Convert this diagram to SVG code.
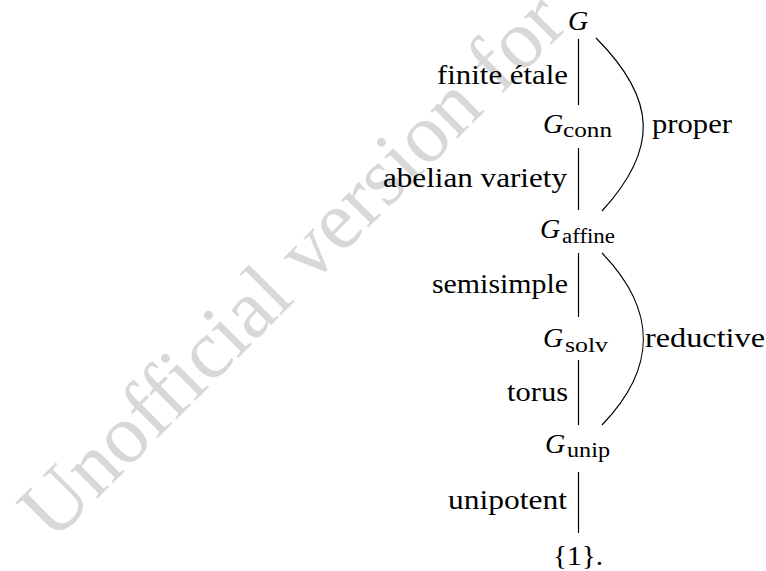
<svg xmlns="http://www.w3.org/2000/svg" width="766" height="571" viewBox="0 0 766 571">
<style>
.wm{font-family:'Liberation Serif','Times New Roman','DejaVu Serif',serif;font-size:84px;fill:#d8d8d8}
.t{font-family:'Liberation Serif','Times New Roman','DejaVu Serif',serif;font-size:28px;fill:#000}
.m{font-family:'Liberation Serif','Times New Roman','DejaVu Serif',serif;font-size:28px;font-style:italic;fill:#000}
.s{font-family:'Liberation Serif','Times New Roman','DejaVu Serif',serif;font-size:20px;fill:#000}
.e{stroke:#000;stroke-width:1.2;fill:none}
</style>
<rect width="766" height="571" fill="#fff"/>
<text class="wm" x="53" y="543" transform="rotate(-45 53 543)">Unofficial version for</text>
<g id="connectors">
<line class="e" x1="578.5" y1="39" x2="578.5" y2="105"/>
<line class="e" x1="578.5" y1="148" x2="578.5" y2="210"/>
<line class="e" x1="578.5" y1="253" x2="578.5" y2="317"/>
<line class="e" x1="578.5" y1="360" x2="578.5" y2="425"/>
<line class="e" x1="578.5" y1="472" x2="578.5" y2="533"/>
<path class="e" d="M596,38 C658,100 658,150 602,211"/>
<path class="e" d="M602,253 C657,310 657,368 602,425"/>
<text class="t" x="437" y="84" textLength="131" lengthAdjust="spacingAndGlyphs">finite étale</text>
<text class="t" x="383" y="187" textLength="184" lengthAdjust="spacingAndGlyphs">abelian variety</text>
<text class="t" x="432" y="293" textLength="136" lengthAdjust="spacingAndGlyphs">semisimple</text>
<text class="t" x="507" y="401" textLength="61" lengthAdjust="spacingAndGlyphs">torus</text>
<text class="t" x="448" y="509" textLength="119" lengthAdjust="spacingAndGlyphs">unipotent</text>
<text class="t" x="652" y="133" textLength="80" lengthAdjust="spacingAndGlyphs">proper</text>
<text class="t" x="645" y="347" textLength="120" lengthAdjust="spacingAndGlyphs">reductive</text>
</g>
<g id="G"><text class="m" x="568" y="30">G</text></g>
<g id="Gconn"><text class="m" x="543" y="133">G</text><text class="s" x="563" y="137" textLength="49" lengthAdjust="spacingAndGlyphs">conn</text></g>
<g id="Gaffine"><text class="m" x="540" y="238">G</text><text class="s" x="562" y="243" textLength="53" lengthAdjust="spacingAndGlyphs">affine</text></g>
<g id="Gsolv"><text class="m" x="543" y="347">G</text><text class="s" x="565" y="352" textLength="43" lengthAdjust="spacingAndGlyphs">solv</text></g>
<g id="Gunip"><text class="m" x="545" y="453">G</text><text class="s" x="567" y="457" textLength="43" lengthAdjust="spacingAndGlyphs">unip</text></g>
<g id="one"><text class="t" x="553" y="565" textLength="50" lengthAdjust="spacingAndGlyphs">{1}.</text></g>
</svg>
